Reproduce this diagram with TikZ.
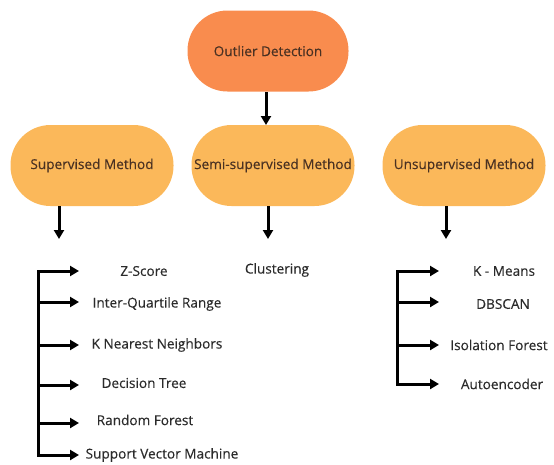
\documentclass[tikz,border=0pt]{standalone}
\usepackage{fontspec}
\setmainfont{Open Sans}[FakeBold=0.35]
\usetikzlibrary{arrows.meta,positioning}
\definecolor{rootfill}{HTML}{F98C4E}
\definecolor{methodfill}{HTML}{FBB85A}
\definecolor{boxtext}{HTML}{4A3122}
\definecolor{itemtext}{HTML}{2B2B2B}
\tikzset{
  rootbox/.style={fill=rootfill, rounded corners=40pt, minimum width=161pt,
    minimum height=81pt, inner sep=0pt, text=boxtext, font=\fontsize{13.6}{16}\selectfont},
  methodbox/.style={fill=methodfill, rounded corners=40pt, minimum width=163pt,
    minimum height=81pt, inner sep=0pt, text=boxtext, font=\fontsize{13.6}{16}\selectfont},
  item/.style={text=itemtext, inner sep=0pt, font=\fontsize{13.6}{16}\selectfont},
  darrow/.style={line width=3pt, -{Triangle[width=10pt,length=9pt]}},
  branch/.style={line width=3pt, line cap=rect},
}
\begin{document}
\begin{tikzpicture}[x=1pt, y=-1pt]
\useasboundingbox (0,0) rectangle (554,464);

% top node and the three method nodes
\node[rootbox] (root) at (268,51) {Outlier Detection};
\node[methodbox] (sup) at (92,165.5) {Supervised Method};
\node[methodbox] (semi) at (273,165.5) {Semi-supervised Method};
\node[methodbox] (unsup) at (464,165.5) {Unsupervised Method};

\draw[darrow] (266,92) -- (266,125);

% drops under each method
\coordinate (supdrop) at (59,239);
\coordinate (semidrop) at (268,239);
\coordinate (unsupdrop) at (446,239);
\draw[darrow] (sup.south -| supdrop) -- (supdrop);
\draw[darrow] (semi.south -| semidrop) -- (semidrop);
\draw[darrow] (unsup.south -| unsupdrop) -- (unsupdrop);

% supervised list
\node[item] (zs) at (144,271) {Z-Score};
\node[item] (iqr) at (157,304) {Inter-Quartile Range};
\node[item] (knn) at (157,345) {K Nearest Neighbors};
\node[item] (dt) at (144,383) {Decision Tree};
\node[item] (rf) at (145,420) {Random Forest};
\node[item] (svm) at (162,455) {Support Vector Machine};

\coordinate (suptop) at (38,271);
\coordinate (supbot) at (38,455);
\draw[branch] (suptop) -- (supbot);
\foreach \y/\n in {271/1,302/2,345/3,385/4,423/5,455/6}{
  \coordinate (supend\n) at (79,\y);
  \draw[darrow] (38,\y) -- (supend\n);
}

% semi-supervised list
\node[item] (clu) at (277,270) {Clustering};

% unsupervised list
\node[item] (km) at (504,271) {K - Means};
\node[item] (dbs) at (503,304) {DBSCAN};
\node[item] (iso) at (499,345) {Isolation Forest};
\node[item] (ae) at (502,384) {Autoencoder};

\coordinate (unsuptop) at (397,271);
\coordinate (unsupbot) at (397,384);
\draw[branch] (unsuptop) -- (unsupbot);
\foreach \y/\n in {271/1,302/2,345/3,384/4}{
  \coordinate (unsupend\n) at (439,\y);
  \draw[darrow] (397,\y) -- (unsupend\n);
}
\end{tikzpicture}
\end{document}
